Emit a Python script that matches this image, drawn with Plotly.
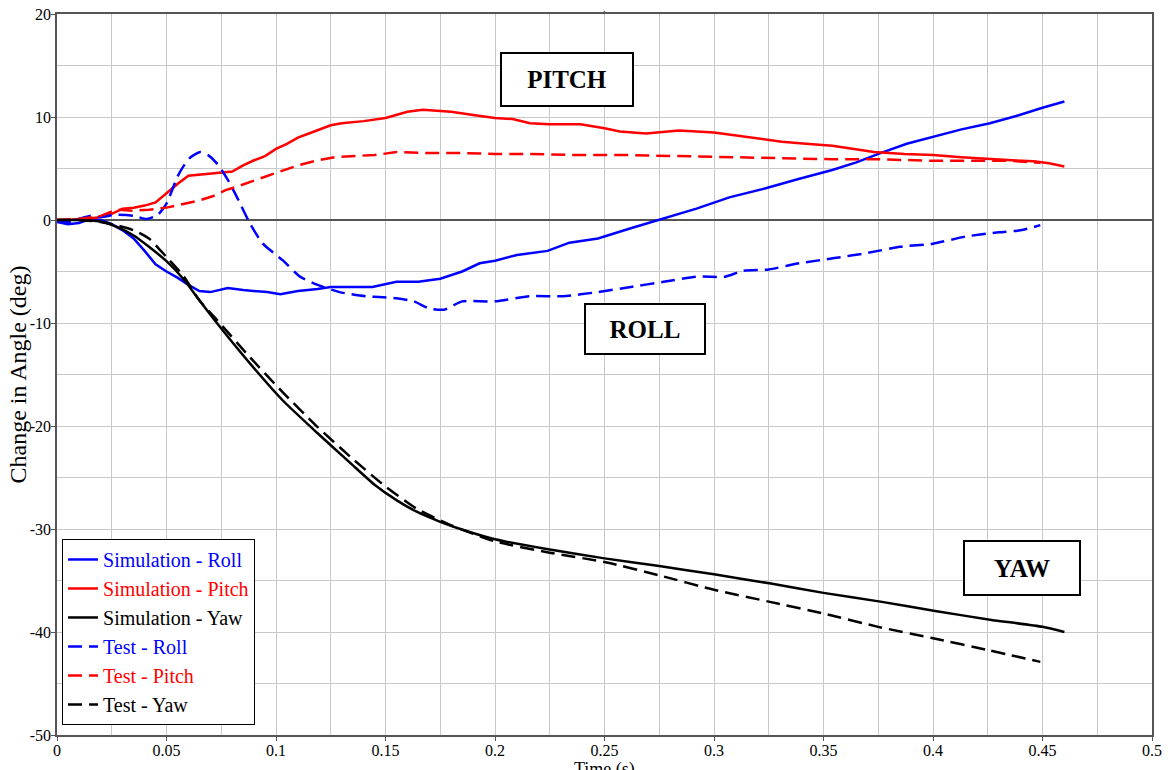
import plotly.graph_objects as go

# ---------------- data ----------------
sim_roll_t = [0, 0.005, 0.01, 0.015, 0.02, 0.025, 0.03, 0.035, 0.04, 0.045, 0.05, 0.055, 0.06, 0.065,
              0.07, 0.078, 0.085, 0.09, 0.096, 0.102, 0.11, 0.119, 0.125, 0.134, 0.144, 0.155, 0.165,
              0.175, 0.185, 0.193, 0.2, 0.21, 0.224, 0.234, 0.247, 0.262, 0.277, 0.292, 0.307, 0.324,
              0.339, 0.354, 0.365, 0.376, 0.388, 0.4, 0.413, 0.426, 0.438, 0.45, 0.46]
sim_roll_v = [-0.2, -0.4, -0.3, 0.1, 0.0, -0.4, -1.0, -1.8, -3.0, -4.3, -5.0, -5.6, -6.3, -6.9,
              -7.0, -6.6, -6.8, -6.9, -7.0, -7.2, -6.9, -6.7, -6.5, -6.5, -6.5, -6.0, -6.0,
              -5.7, -5.0, -4.2, -3.95, -3.4, -3.0, -2.2, -1.8, -0.8, 0.16, 1.1, 2.2, 3.1,
              4.0, 4.85, 5.6, 6.5, 7.4, 8.1, 8.8, 9.4, 10.1, 10.9, 11.5]

sim_pitch_t = [0, 0.005, 0.01, 0.015, 0.02, 0.025, 0.03, 0.035, 0.04, 0.045, 0.05, 0.055, 0.06, 0.065,
               0.07, 0.075, 0.08, 0.085, 0.09, 0.095, 0.1, 0.105, 0.11, 0.115, 0.12, 0.125, 0.13, 0.14,
               0.15, 0.155, 0.16, 0.167, 0.175, 0.18, 0.19, 0.2, 0.208, 0.216, 0.225, 0.239, 0.25,
               0.257, 0.269, 0.284, 0.3, 0.309, 0.32, 0.331, 0.342, 0.354, 0.364, 0.373, 0.387, 0.4,
               0.413, 0.426, 0.436, 0.446, 0.453, 0.46]
sim_pitch_v = [0, 0.0, 0.1, 0.15, 0.3, 0.6, 1.1, 1.2, 1.4, 1.7, 2.6, 3.5, 4.3, 4.4,
               4.5, 4.6, 4.7, 5.3, 5.8, 6.2, 6.9, 7.4, 8.0, 8.4, 8.8, 9.2, 9.4, 9.6,
               9.9, 10.2, 10.5, 10.7, 10.6, 10.5, 10.2, 9.9, 9.8, 9.4, 9.3, 9.3, 8.9,
               8.6, 8.4, 8.7, 8.5, 8.25, 7.9, 7.6, 7.4, 7.2, 6.9, 6.6, 6.4, 6.3,
               6.1, 5.9, 5.8, 5.7, 5.5, 5.2]

sim_yaw_t = [0, 0.01, 0.015, 0.0196, 0.027, 0.035, 0.042, 0.05, 0.058, 0.065, 0.073, 0.088, 0.103,
             0.119, 0.134, 0.145, 0.155, 0.164, 0.175, 0.187, 0.2, 0.225, 0.25, 0.275, 0.3, 0.326, 0.35,
             0.376, 0.401, 0.426, 0.45, 0.46]
sim_yaw_v = [0, 0, -0.05, -0.15, -0.65, -1.5, -2.6, -4.0, -5.8, -7.8, -10.0, -13.9, -17.5,
             -20.7, -23.6, -25.7, -27.2, -28.3, -29.3, -30.2, -31.0, -32.0, -32.85, -33.6, -34.4, -35.3, -36.2,
             -37.05, -37.96, -38.8, -39.5, -40.0]

test_roll_t = [0, 0.005, 0.01, 0.015, 0.02, 0.027, 0.035, 0.041, 0.046, 0.05, 0.055, 0.058, 0.061,
               0.0655, 0.069, 0.073, 0.078, 0.082, 0.088, 0.094, 0.103, 0.111, 0.119, 0.129, 0.141,
               0.149, 0.155, 0.163, 0.17, 0.177, 0.185, 0.2, 0.216, 0.231, 0.247, 0.262, 0.277, 0.292,
               0.305, 0.313, 0.325, 0.339, 0.355, 0.37, 0.385, 0.4, 0.415, 0.43, 0.44, 0.449]
test_roll_v = [0, -0.2, 0.1, 0.4, 0.3, 0.5, 0.4, 0.1, 0.5, 1.6, 4.2, 5.3, 6.1,
               6.6, 6.3, 5.5, 3.9, 2.3, -0.3, -2.3, -3.9, -5.5, -6.3, -7.0, -7.4,
               -7.5, -7.6, -7.9, -8.6, -8.7, -7.9, -7.9, -7.4, -7.4, -7.0, -6.5, -6.0, -5.5,
               -5.5, -4.95, -4.8, -4.2, -3.7, -3.2, -2.6, -2.3, -1.6, -1.2, -1.0, -0.5]

test_pitch_t = [0, 0.01, 0.02, 0.027, 0.035, 0.042, 0.05, 0.058, 0.065, 0.071, 0.077, 0.083, 0.088,
                0.095, 0.103, 0.11, 0.119, 0.127, 0.134, 0.145, 0.155, 0.17, 0.186, 0.2, 0.216, 0.24,
                0.262, 0.285, 0.307, 0.33, 0.354, 0.375, 0.4, 0.42, 0.435, 0.449]
test_pitch_v = [0, 0.1, 0.4, 1.0, 0.9, 1.0, 1.2, 1.6, 1.9, 2.3, 2.9, 3.3, 3.7,
                4.2, 4.8, 5.3, 5.8, 6.1, 6.2, 6.3, 6.6, 6.5, 6.5, 6.4, 6.4, 6.3,
                6.3, 6.2, 6.05, 6.0, 5.9, 5.9, 5.75, 5.75, 5.75, 5.55]

test_yaw_t = [0, 0.01, 0.02, 0.027, 0.035, 0.042, 0.05, 0.058, 0.065, 0.073, 0.088, 0.103, 0.119,
              0.134, 0.149, 0.164, 0.1795, 0.2, 0.225, 0.25, 0.275, 0.3, 0.325, 0.35, 0.375, 0.4,
              0.425, 0.449]
test_yaw_v = [0, 0, -0.2, -0.5, -1.0, -1.8, -3.6, -5.5, -7.8, -9.7, -13.3, -16.7, -20.1,
              -23.0, -25.7, -28.0, -29.6, -31.2, -32.3, -33.2, -34.5, -35.9, -37.05, -38.2, -39.5, -40.6,
              -41.75, -42.9]

x_tick_vals = [0, 0.05, 0.1, 0.15, 0.2, 0.25, 0.3, 0.35, 0.4, 0.45, 0.5]
x_tick_text = ["0", "0.05", "0.1", "0.15", "0.2", "0.25", "0.3", "0.35", "0.4", "0.45", "0.5"]
y_tick_vals = [20, 10, 0, -10, -20, -30, -40, -50]
y_tick_text = ["20", "10", "0", "-10", "-20", "-30", "-40", "-50"]

x_title = "Time (s)"
y_title = "Change in Angle (deg)"

labels = ["PITCH", "ROLL", "YAW"]
label_x = [0.2329, 0.2685, 0.4406]
label_y = [13.64, -10.58, -33.79]

# ---------------- figure ----------------
FONT = "Liberation Serif, Times New Roman, serif"
BLUE, RED, BLACK = "#0000FF", "#FF0000", "#000000"
DASH = "14px,7px"

series = [
    ("Simulation - Roll", sim_roll_t, sim_roll_v, BLUE, "solid", "linear"),
    ("Simulation - Pitch", sim_pitch_t, sim_pitch_v, RED, "solid", "linear"),
    ("Simulation - Yaw", sim_yaw_t, sim_yaw_v, BLACK, "solid", "spline"),
    ("Test - Roll", test_roll_t, test_roll_v, BLUE, DASH, "spline"),
    ("Test - Pitch", test_pitch_t, test_pitch_v, RED, DASH, "linear"),
    ("Test - Yaw", test_yaw_t, test_yaw_v, BLACK, DASH, "spline"),
]

fig = go.Figure()
for name, t, v, col, dash, shape in series:
    fig.add_trace(go.Scatter(
        x=t, y=v, mode="lines",
        name=f"<span style='color:{col}'>{name}</span>",
        line=dict(color=col, width=2.5, dash=dash, shape=shape,
                  smoothing=0.6 if shape == "spline" else None),
    ))

box_w = {"PITCH": 128, "ROLL": 116, "YAW": 112}
box_h = {"PITCH": 49, "ROLL": 46, "YAW": 50}
for txt, ax_, ay_ in zip(labels, label_x, label_y):
    fig.add_annotation(
        x=ax_, y=ay_, xref="x", yref="y", text=f"<b>{txt}</b>", showarrow=False,
        font=dict(family=FONT, size=25, color="black"),
        bordercolor="black", borderwidth=2, borderpad=1, bgcolor="white",
        width=box_w[txt], height=box_h[txt], align="center", valign="middle",
    )

# axis titles as annotations for precise placement (x title partly cut by the page edge, as in the original)
fig.add_annotation(
    x=0.5, y=0, xref="paper", yref="paper", yanchor="top", yshift=-22,
    text=x_title, showarrow=False, font=dict(family=FONT, size=18, color="black"),
)
fig.add_annotation(
    x=0, y=0.5, xref="paper", yref="paper", xanchor="center", yanchor="middle", xshift=-40,
    text=y_title, textangle=-90, showarrow=False, font=dict(family=FONT, size=24, color="black"),
)
fig.add_annotation(
    x=0.5, y=1, xref="paper", yref="paper", yanchor="bottom", yshift=-2,
    text=".", showarrow=False, font=dict(family=FONT, size=10, color="black"),
)

GRID = "#c8c8c8"
fig.update_layout(
    width=1168, height=770,
    margin=dict(l=57, r=16, t=14, b=35),
    paper_bgcolor="white", plot_bgcolor="white",
    font=dict(family=FONT, size=16, color="black"),
    showlegend=True,
    legend=dict(
        x=0.0046, y=0.0139, xanchor="left", yanchor="bottom",
        bgcolor="white", bordercolor="black", borderwidth=1,
        font=dict(family=FONT, size=20, color="black"),
        tracegroupgap=0, itemwidth=30,
    ),
    xaxis=dict(
        range=[0, 0.5], tickvals=x_tick_vals, ticktext=x_tick_text,
        showline=True, linecolor="#555555", linewidth=1.5, mirror=True,
        showgrid=True, gridcolor=GRID, gridwidth=1,
        minor=dict(dtick=0.025, tick0=0, showgrid=True, gridcolor=GRID, gridwidth=1),
        ticks="outside", ticklen=4, tickcolor="#555555", ticklabelstandoff=-4,
        tickfont=dict(family=FONT, size=16, color="black"),
        zeroline=False, automargin=False,
    ),
    yaxis=dict(
        range=[-50, 20], tickvals=y_tick_vals, ticktext=y_tick_text,
        showline=True, linecolor="#555555", linewidth=1.5, mirror=True,
        showgrid=True, gridcolor=GRID, gridwidth=1,
        minor=dict(dtick=5, tick0=0, showgrid=True, gridcolor=GRID, gridwidth=1),
        ticks="outside", ticklen=4, tickcolor="#555555", ticklabelstandoff=-3,
        tickfont=dict(family=FONT, size=16, color="black"),
        zeroline=True, zerolinecolor="#555555", zerolinewidth=1.5,
        automargin=False,
    ),
)

fig.write_html(
    "out.html",
    config={"displayModeBar": False},
    post_script="document.body.style.margin='0px';document.body.style.overflow='hidden';",
)
